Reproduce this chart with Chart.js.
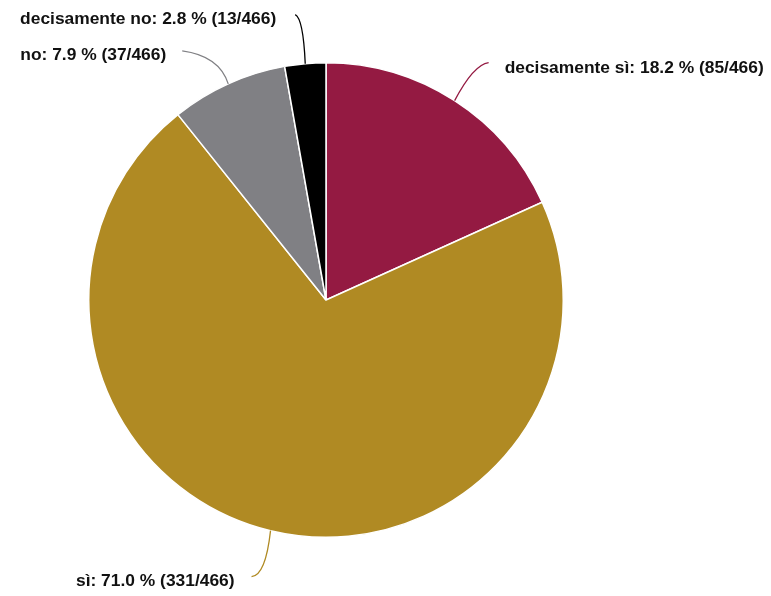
<!DOCTYPE html>
<html>
<head>
<meta charset="utf-8">
<script src="https://cdn.jsdelivr.net/npm/chart.js@4/dist/chart.umd.min.js"></script>
<style>
  html, body { margin: 0; padding: 0; background: #fff; }
  #wrap { width: 771px; height: 596px; }
</style>
</head>
<body>
<div id="wrap"><canvas id="grafico"></canvas></div>
<script>
// dati
const categorie = ['decisamente sì', 'sì', 'no', 'decisamente no'];
const risposte = [85, 331, 37, 13];
const colori = ['#941a42', '#b08a23', '#808084', '#000000'];

// linee guida: fine della linea e punto di controllo, relativi al bordo della fetta
const guide = [
    { dx: 34, dy: -38, cx: 19, cy: -36, lato: 'right', gap: 16 },
    { dx: -19, dy: 46, cx: -5, cy: 45, lato: 'left', gap: 17 },
    { dx: -46, dy: -33, cx: -9, cy: -28, lato: 'left', gap: 16 },
    { dx: -10, dy: -49, cx: -2, cy: -45, lato: 'left', gap: 19 }
];

const totale = risposte.reduce((a, b) => a + b, 0);

// plugin per etichette con linee curve
const etichette = {
    id: 'etichette',
    afterDatasetsDraw(chart) {
        const ctx = chart.ctx;
        const meta = chart.getDatasetMeta(0);
        ctx.save();
        ctx.font = 'bold 17.4px "Liberation Sans", Helvetica, Arial, sans-serif';
        ctx.textBaseline = 'alphabetic';
        meta.data.forEach((arc, i) => {
            const p = arc.getProps(['x', 'y', 'startAngle', 'endAngle', 'outerRadius'], true);
            const mid = (p.startAngle + p.endAngle) / 2;
            const ex = p.x + Math.cos(mid) * p.outerRadius;
            const ey = p.y + Math.sin(mid) * p.outerRadius;
            const g = guide[i];
            const fx = ex + g.dx, fy = ey + g.dy;

            ctx.strokeStyle = colori[i];
            ctx.lineWidth = 1.3;
            ctx.beginPath();
            ctx.moveTo(ex, ey);
            ctx.quadraticCurveTo(ex + g.cx, ey + g.cy, fx, fy);
            ctx.stroke();

            const pct = (risposte[i] / totale * 100).toFixed(1);
            const testo = categorie[i] + ': ' + pct + ' % (' + risposte[i] + '/' + totale + ')';
            ctx.fillStyle = '#111';
            if (g.lato === 'right') {
                ctx.textAlign = 'left';
                ctx.fillText(testo, fx + g.gap, fy + 10);
            } else {
                ctx.textAlign = 'right';
                ctx.fillText(testo, fx - g.gap, fy + 9);
            }
        });
        ctx.restore();
    }
};

new Chart(document.getElementById('grafico'), {
    type: 'pie',
    data: {
        labels: categorie,
        datasets: [{
            data: risposte,
            backgroundColor: colori,
            borderColor: '#ffffff',
            borderWidth: 1.5
        }]
    },
    options: {
        responsive: true,
        maintainAspectRatio: false,
        animation: false,
        layout: {
            padding: { left: 88, right: 207, top: 62, bottom: 58 }
        },
        plugins: {
            legend: { display: false },
            tooltip: { enabled: false }
        }
    },
    plugins: [etichette]
});
</script>
</body>
</html>
